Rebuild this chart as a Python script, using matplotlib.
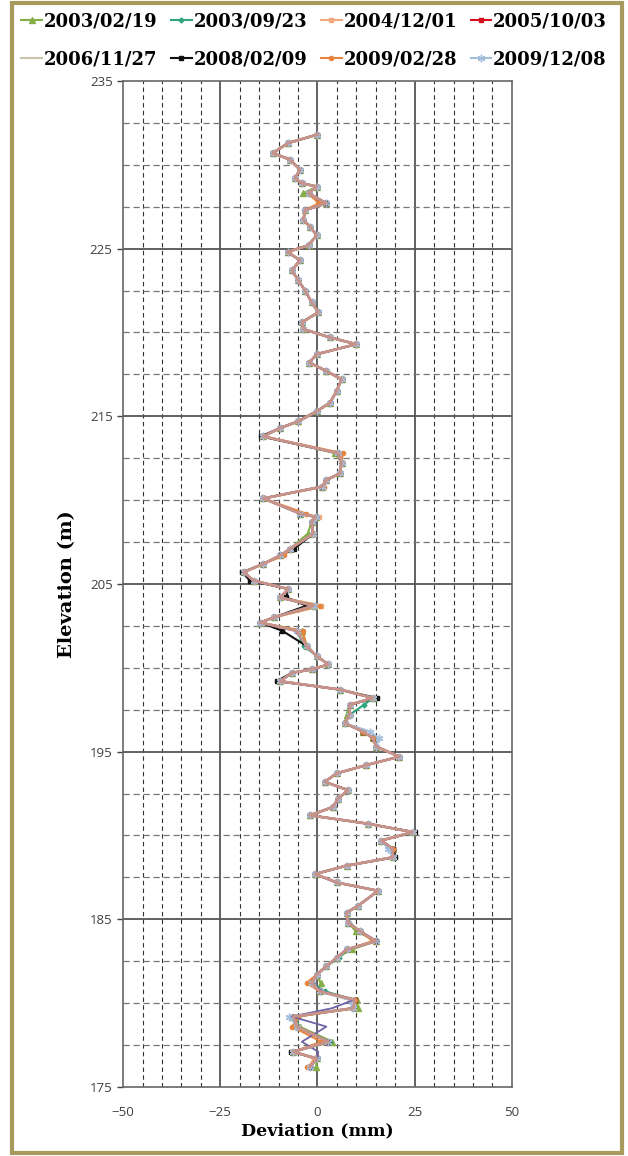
import matplotlib
matplotlib.use("Agg")
import matplotlib.pyplot as plt
from matplotlib.lines import Line2D
from matplotlib.patches import Rectangle

# Inclinometer readings: elevation (m) and deviation (mm)
elevation = [231.8, 231.3, 230.7, 230.3, 229.7, 229.2, 228.9, 228.7, 228.3, 227.7,
             227.3, 226.7, 226.3, 225.8, 225.2, 224.8, 224.3, 223.7, 223.1, 222.5,
             221.8, 221.2, 220.6, 220.2, 219.7, 219.3, 218.7, 218.2, 217.7, 217.2,
             216.5, 215.8, 215.3, 214.7, 214.3, 213.8, 212.8, 212.2, 211.6, 211.2,
             210.8, 210.1, 209.2, 209.0, 208.7, 208.0, 207.1, 206.7, 206.2, 205.7,
             205.2, 204.7, 204.2, 203.7, 203.0, 202.7, 202.2, 201.3, 200.7, 200.2,
             199.9, 199.7, 199.2, 198.7, 198.2, 197.8, 197.2, 196.7, 196.2, 195.8,
             195.3, 194.7, 194.2, 193.7, 193.2, 192.7, 192.2, 191.7, 191.2, 190.7,
             190.2, 189.7, 189.2, 188.7, 188.2, 187.7, 187.2, 186.7, 185.8, 185.4,
             184.8, 184.3, 183.7, 183.2, 182.7, 182.2, 181.7, 181.2, 180.7, 180.2,
             179.7, 179.2, 178.6, 177.7, 177.1, 176.7, 176.2]

profile = [0.0, -7.5, -11.5, -7.0, -4.5, -5.8, -4.0, -0.2, -2.3, 2.3,
           -3.2, -3.6, -1.9, -0.2, -2.3, -7.7, -4.5, -6.6, -4.9, -3.2,
           -1.5, 0.2, -4.0, -3.6, 3.2, 10.0, -0.2, -2.1, 2.3, 6.2,
           4.9, 3.2, -0.2, -4.9, -9.6, -13.9, 5.3, 6.2, 5.8, 2.3,
           1.1, -13.9, -4.5, -0.5, -1.5, -1.1, -7.0, -9.6, -13.9, -19.0,
           -16.4, -7.5, -9.6, -1.0, -11.3, -14.7, -5.3, -2.8, -0.2, 2.8,
           -1.5, -6.6, -9.6, 5.8, 14.3, 8.3, 8.3, 7.0, 11.7, 14.3,
           15.1, 21.1, 12.6, 4.9, 1.9, 7.9, 5.3, 4.0, -1.9, 13.0,
           24.5, 16.4, 19.4, 19.4, 7.5, -0.6, 4.9, 15.6, 10.4, 7.5,
           7.9, 10.9, 15.1, 7.5, 4.9, 2.3, -0.2, -1.5, 0.6, 9.6,
           9.2, -6.2, -5.3, 2.8, -6.2, -0.2, -1.9]

survey_dates = ["2003/02/19", "2003/09/23", "2004/12/01", "2005/10/03",
                "2006/11/27", "2008/02/09", "2009/02/28", "2009/12/08"]

# Readings of individual surveys that depart from the common profile
survey_changes = {
    "2003/02/19": {228.3: -3.6, 212.8: 4.6, 208.0: -2.5, 202.2: -4.0, 197.2: 7.5,
                   184.3: 9.8, 183.2: 8.8, 181.2: 0.8, 180.2: 10.2, 179.7: 10.4,
                   178.6: -4.6, 177.7: 3.8, 176.2: -0.3},
    "2003/09/23": {207.1: -6.2, 201.3: -3.5, 197.8: 12.0, 184.8: 8.2, 182.7: 5.6,
                   180.7: 2.0, 179.2: -5.0, 177.7: 3.2},
    "2004/12/01": {209.0: 0.5, 203.7: 1.0, 181.2: -2.0, 179.2: -5.5, 176.7: -1.0},
    "2005/10/03": {},
    "2006/11/27": {203.7: 1.5, 180.2: 8.0, 179.2: -6.8},
    "2008/02/09": {213.8: -14.6, 207.1: -6.0, 205.7: -19.3, 205.2: -17.4, 204.2: -8.0,
                   203.7: -2.8, 202.2: -9.0, 199.2: -10.5, 198.2: 15.2, 190.2: 25.0,
                   188.7: 20.0, 177.1: -6.7},
    "2009/02/28": {227.7: 0.3, 212.8: 6.5, 210.8: 1.8, 209.2: -3.0, 206.7: -8.5,
                   203.7: 0.6, 202.2: -3.8, 183.7: 14.2, 181.2: -2.8, 179.2: -5.0,
                   178.6: -6.5, 177.7: 1.0, 176.2: -2.6},
    "2009/12/08": {196.2: 13.6, 195.8: 15.8, 189.2: 18.2, 180.2: 8.4, 179.2: -7.2},
}

# Later surveys plotted without legend entries
later_changes = [
    {180.7: 1.2, 180.2: 9.4, 179.7: 3.8, 179.2: -6.6, 178.6: 2.3, 177.7: -4.0,
     177.1: 0.2, 176.7: 0.0},
    {},
]

styles = {
    "2003/02/19": dict(color="#86AE48", marker="^", ms=4.5),
    "2003/09/23": dict(color="#2FA67E", marker="D", ms=2.5),
    "2004/12/01": dict(color="#F2A97E", marker="s", ms=2.5),
    "2005/10/03": dict(color="#D8101C", marker="s", ms=3.5),
    "2006/11/27": dict(color="#C9C5AA", marker=None, ms=0),
    "2008/02/09": dict(color="#111111", marker="s", ms=3),
    "2009/02/28": dict(color="#E8843C", marker="o", ms=3),
    "2009/12/08": dict(color="#A3BEDD", marker=(6, 2, 0), ms=5.5),
}
later_styles = [
    dict(color="#6F64A6", lw=1.3),
    dict(color="#C8938B", lw=2.0),
]


def survey_values(changes):
    return [changes.get(e, p) for e, p in zip(elevation, profile)]


fig = plt.figure(figsize=(6.28, 11.56), dpi=100)
ax = fig.add_axes([0.196, 0.0597, 0.619, 0.8703])

ax.set_xlim(-50, 50)
ax.set_ylim(175, 235)

# Grid: dashed every 5 mm / 2.5 m, solid every 25 mm / 10 m
for x in range(-45, 50, 5):
    if x % 25 == 0:
        ax.axvline(x, color="#555555", lw=1.3, zorder=1)
    else:
        ax.axvline(x, color="#333333", lw=0.8, ls=(0, (4, 3)), zorder=1)
for y in [175 + 2.5 * k for k in range(1, 24)]:
    if abs((y - 175) % 10) < 1e-6:
        ax.axhline(y, color="#555555", lw=1.3, zorder=1)
    else:
        ax.axhline(y, color="#777777", lw=0.9, ls=(0, (5, 3)), zorder=1)

handles = []
for i, date in enumerate(survey_dates):
    st = styles[date]
    xs = survey_values(survey_changes[date])
    ax.plot(xs, elevation, color=st["color"], lw=1.5, marker=st["marker"],
            ms=st["ms"], mew=1.0, mec=st["color"], zorder=3 + i)
    handles.append(Line2D([], [], color=st["color"], lw=1.5, marker=st["marker"],
                          ms=st["ms"], mew=1.0, label=date))
for j, (ch, st) in enumerate(zip(later_changes, later_styles)):
    xs = survey_values(ch)
    ax.plot(xs, elevation, color=st["color"], lw=st["lw"], zorder=20 + j)

ax.set_xticks([-50, -25, 0, 25, 50])
ax.set_yticks([175, 185, 195, 205, 215, 225, 235])
ax.tick_params(axis="both", labelsize=9.5, colors="#404040", length=4,
               width=1, direction="out")
ax.tick_params(axis="x", length=0, pad=14)
for lab in ax.get_xticklabels() + ax.get_yticklabels():
    lab.set_fontfamily("Open Sans")
for side in ["left", "right", "top", "bottom"]:
    ax.spines[side].set_color("#666666")
    ax.spines[side].set_linewidth(1.2)

ax.set_xlabel("Deviation (mm)", fontsize=12.5, fontweight="bold",
              fontfamily="DejaVu Serif", labelpad=2)
ax.set_ylabel("Elevation (m)", fontsize=14, fontweight="bold",
              fontfamily="DejaVu Serif", labelpad=10)

# Legend filled row by row: four entries per row
ncol = 4
nrow = (len(handles) + ncol - 1) // ncol
ordered = [handles[r * ncol + c] for c in range(ncol) for r in range(nrow)]
fig.legend(handles=ordered, loc="upper left", bbox_to_anchor=(0.034, 0.989),
           ncol=ncol, frameon=False, handlelength=1.15, handletextpad=0.1,
           columnspacing=0.75, labelspacing=1.1, borderpad=0, borderaxespad=0,
           prop=dict(family="DejaVu Serif", weight="bold", size=13))

# Outer frame of the figure
fig.patches.append(Rectangle((0.019, 0.003), 0.971, 0.994, transform=fig.transFigure,
                             fill=False, edgecolor="#A89A5C", lw=3))

fig.savefig("out.png", dpi=100)
